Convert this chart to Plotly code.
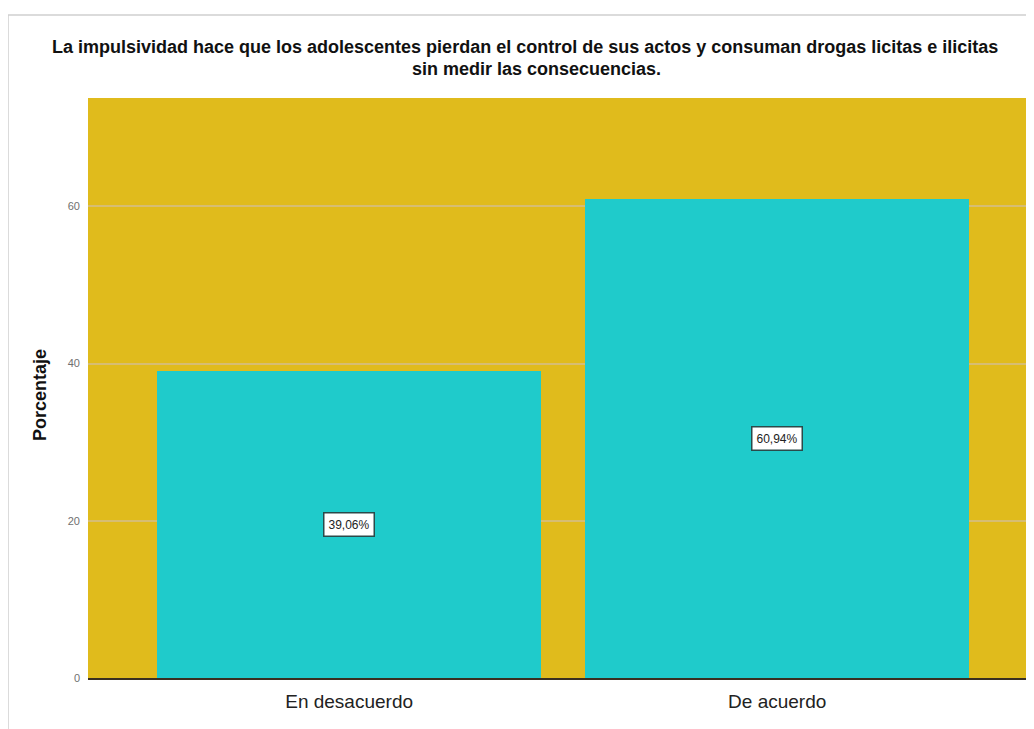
import plotly.graph_objects as go

categories = ["En desacuerdo", "De acuerdo"]
values = [39.06, 60.94]
labels = ["39,06%", "60,94%"]
y_ticks = [0, 20, 40, 60]

title_line1 = "La impulsividad hace que los adolescentes pierdan el control de sus actos y consuman drogas licitas e ilicitas"
title_line2 = "sin medir las consecuencias."

# page body has an 8px margin; compensate so the plot area lands where the reference has it
W, H = 1026, 721
L, T, B = 80, 90, 51
plot_w = W - L
plot_h = H - T - B

FONT = "Liberation Sans, Arial, sans-serif"

fig = go.Figure()
fig.add_trace(go.Bar(
    x=[0, 1], y=values,
    width=0.897,
    marker=dict(color="#1fcbcb", line=dict(width=0)),
    hoverinfo="skip",
))

for i, (v, lab) in enumerate(zip(values, labels)):
    fig.add_annotation(
        x=i, y=v / 2, xref="x", yref="y", text=lab, showarrow=False,
        font=dict(family=FONT, size=12, color="#222222"),
        bgcolor="white", bordercolor="#2a4a4a", borderwidth=1.5, borderpad=4,
    )

# title as two annotations for tight line spacing
fig.add_annotation(
    x=(525 - 88) / plot_w, y=1 + (98 - 47) / plot_h, xref="paper", yref="paper",
    text="<b>" + title_line1 + "</b>", showarrow=False, xanchor="center", yanchor="middle",
    font=dict(family=FONT, size=18, color="#111111"),
)
fig.add_annotation(
    x=(536 - 88) / plot_w, y=1 + (98 - 69) / plot_h, xref="paper", yref="paper",
    text="<b>" + title_line2 + "</b>", showarrow=False, xanchor="center", yanchor="middle",
    font=dict(family=FONT, size=18, color="#111111"),
)

# y-axis title placed as annotation (slightly below the plot centre, as in the reference)
fig.add_annotation(
    x=(40 - 88) / plot_w, y=1 - (395 - 98) / plot_h, xref="paper", yref="paper",
    text="<b>Porcentaje</b>", showarrow=False, textangle=-90,
    xanchor="center", yanchor="middle",
    font=dict(family=FONT, size=18, color="#111111"),
)

# outer light border
fig.add_shape(type="rect", xref="paper", yref="paper",
              x0=(8 - 88) / plot_w, x1=1.02,
              y0=-0.2, y1=1 + (98 - 15) / plot_h,
              line=dict(color="#d0d0d0", width=1.5), fillcolor="rgba(0,0,0,0)", layer="below")

fig.update_layout(
    width=W, height=H,
    margin=dict(l=L, r=0, t=T, b=B, pad=0),
    paper_bgcolor="white",
    plot_bgcolor="#e0bb1c",
    showlegend=False,
    bargap=0,
    xaxis=dict(
        range=[-0.61, 1.60],
        tickmode="array", tickvals=[0, 1], ticktext=categories,
        tickfont=dict(family=FONT, size=19, color="#222222"),
        showgrid=False, zeroline=False,
        showline=True, linecolor="#3a3020", linewidth=1.5,
        ticks="", ticklabelstandoff=5,
    ),
    yaxis=dict(
        range=[0, 73.8],
        tickmode="array", tickvals=y_ticks,
        tickfont=dict(family=FONT, size=11, color="#707070"),
        showgrid=True, gridcolor="#d6bd72", gridwidth=1.5,
        zeroline=False, showline=False, ticks="", ticklabelstandoff=7,
    ),
)

fig.write_html("out.html")
